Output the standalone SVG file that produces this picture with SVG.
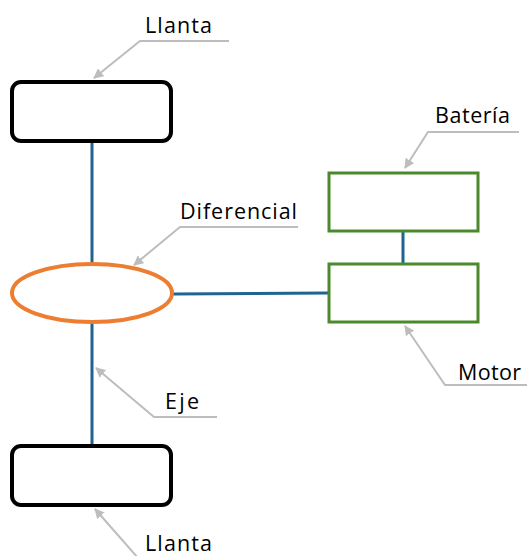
<svg xmlns="http://www.w3.org/2000/svg" width="527" height="556" viewBox="0 0 527 556">
  <style>
    .wheel { fill: #ffffff; stroke: #000000; stroke-width: 4; }
    .box { fill: #ffffff; stroke: #4A8A2C; stroke-width: 3; }
    .diff { fill: #ffffff; stroke: #ED7D31; stroke-width: 4; }
    .link { fill: none; stroke: #1F6391; stroke-width: 3; }
    .callout { fill: none; stroke: #BDBDBD; stroke-width: 2; }
    .label { font-family: "Open Sans", "Liberation Sans", sans-serif; font-size: 21.5px; fill: #000000; }
  </style>
  <defs>
    <marker id="tip" viewBox="0 0 10 10" refX="9" refY="5" markerWidth="5" markerHeight="5" orient="auto" markerUnits="strokeWidth">
      <path d="M0,0 L10,5 L0,10 z" fill="#BDBDBD"/>
    </marker>
  </defs>

  <!-- shaft and power connections -->
  <g id="connectors">
    <line class="link" x1="92" y1="142" x2="92" y2="264"/>
    <line class="link" x1="92" y1="323" x2="92" y2="445"/>
    <line class="link" x1="173" y1="294" x2="328" y2="293"/>
    <line class="link" x1="403" y1="232" x2="403" y2="264"/>
  </g>

  <g id="llanta-superior">
    <rect class="wheel" x="12" y="82" width="159" height="59" rx="9"/>
  </g>
  <g id="llanta-inferior">
    <rect class="wheel" x="12" y="446" width="159" height="59" rx="9"/>
  </g>
  <g id="diferencial">
    <ellipse class="diff" cx="92" cy="293" rx="80" ry="29"/>
  </g>
  <g id="bateria">
    <rect class="box" x="329" y="173" width="149" height="58"/>
  </g>
  <g id="motor">
    <rect class="box" x="329" y="264" width="149" height="58"/>
  </g>

  <!-- labels with pointer lines -->
  <g id="callouts">
    <polyline class="callout" points="229,41 140,41 94,78" marker-end="url(#tip)"/>
    <text class="label" x="145" y="33" textLength="67">Llanta</text>

    <polyline class="callout" points="298,227 180,227 134,265" marker-end="url(#tip)"/>
    <text class="label" x="180" y="219" textLength="117">Diferencial</text>

    <polyline class="callout" points="519,132 428,132 405,168" marker-end="url(#tip)"/>
    <text class="label" x="435" y="123" textLength="75">Batería</text>

    <polyline class="callout" points="527,385 445,385 405,326" marker-end="url(#tip)"/>
    <text class="label" x="458" y="380" textLength="63">Motor</text>

    <polyline class="callout" points="217,417 154,417 96,368" marker-end="url(#tip)"/>
    <text class="label" x="165" y="409" textLength="34">Eje</text>

    <polyline class="callout" points="138,558 95,509" marker-end="url(#tip)"/>
    <text class="label" x="145" y="551" textLength="67">Llanta</text>
  </g>
</svg>
